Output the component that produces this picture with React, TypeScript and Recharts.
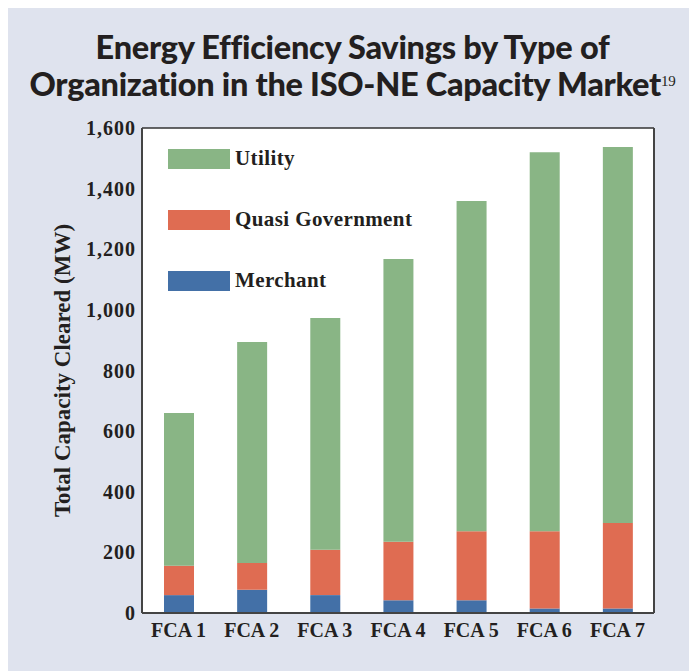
import { BarChart, Bar, XAxis, YAxis, CartesianGrid, Legend } from "recharts"

const categories = ["FCA 1", "FCA 2", "FCA 3", "FCA 4", "FCA 5", "FCA 6", "FCA 7"]
const merchant = [59, 77, 59, 42, 42, 15, 15]
const quasiGovernment = [97, 88, 150, 193, 228, 255, 282]
const utility = [504, 729, 764, 933, 1089, 1250, 1240]
const yTicks = [0, 200, 400, 600, 800, 1000, 1200, 1400, 1600]

const data = categories.map((name, i) => ({
  name,
  merchant: merchant[i],
  quasi: quasiGovernment[i],
  utility: utility[i],
}))

const legendItems = [
  { label: "Utility", color: "#89b585" },
  { label: "Quasi Government", color: "#df6c52" },
  { label: "Merchant", color: "#4370a7" },
]

const serif = "'Liberation Serif', 'Times New Roman', serif"
const ink = "#231f20"

function LegendBox() {
  return (
    <div>
      {legendItems.map((item) => (
        <div key={item.label} style={{ display: "flex", alignItems: "center", height: 61 }}>
          <div style={{ width: 62, height: 20, background: item.color }} />
          <span style={{ marginLeft: 5, fontFamily: serif, fontWeight: 700, fontSize: 21, letterSpacing: 0.4, color: ink }}>
            {item.label}
          </span>
        </div>
      ))}
    </div>
  )
}

export default function App() {
  return (
    <div style={{ position: "relative", width: 689, height: 663, background: "#dfe3ee", overflow: "hidden" }}>
      <div
        style={{
          position: "absolute",
          top: 20,
          left: 0,
          width: 689,
          textAlign: "center",
          fontFamily: "Lato, sans-serif",
          fontWeight: 900,
          fontSize: 32.5,
          lineHeight: "37px",
          letterSpacing: -0.3,
          color: ink,
        }}
      >
        Energy Efficiency Savings by Type of
        <br />
        Organization in the ISO-NE Capacity Market
        <sup style={{ fontFamily: serif, fontWeight: 400, fontSize: 15, verticalAlign: "10px", lineHeight: 0 }}>19</sup>
      </div>
      <div style={{ position: "absolute", top: 0, left: 0 }}>
        <BarChart width={689} height={663} data={data} margin={{ top: 120, right: 42, left: 34, bottom: 28 }} barSize={30}>
          <CartesianGrid vertical={false} stroke="#333" strokeWidth={1.5} fill="#ffffff" />
          <XAxis
            dataKey="name"
            interval={0}
            tickLine={false}
            axisLine={{ stroke: "#444", strokeWidth: 2 }}
            tickMargin={4}
            tick={{ fontFamily: serif, fontWeight: 700, fontSize: 20, fill: ink }}
          />
          <YAxis
            yAxisId="left"
            width={100}
            domain={[0, 1600]}
            ticks={yTicks}
            interval={0}
            tickLine={false}
            tickSize={4}
            axisLine={{ stroke: "#444", strokeWidth: 2 }}
            tickFormatter={(v) => v.toLocaleString("en-US")}
            tick={{ fontFamily: serif, fontWeight: 700, fontSize: 20, letterSpacing: 1, fill: ink }}
            label={{
              value: "Total Capacity Cleared (MW)",
              angle: -90,
              position: "insideLeft",
              offset: 20,
              style: { textAnchor: "middle", fontFamily: serif, fontWeight: 700, fontSize: 23, fill: ink },
            }}
          />
          <YAxis
            yAxisId="right"
            orientation="right"
            width={1}
            domain={[0, 1600]}
            tick={false}
            tickLine={false}
            axisLine={{ stroke: "#444", strokeWidth: 2 }}
          />
          <Legend
            content={<LegendBox />}
            layout="vertical"
            verticalAlign="middle"
            align="center"
            wrapperStyle={{ top: 120, left: 160, width: 320 }}
          />
          <Bar yAxisId="left" dataKey="merchant" stackId="a" fill="#4370a7" isAnimationActive={false} />
          <Bar yAxisId="left" dataKey="quasi" stackId="a" fill="#df6c52" isAnimationActive={false} />
          <Bar yAxisId="left" dataKey="utility" stackId="a" fill="#89b585" isAnimationActive={false} />
        </BarChart>
      </div>
    </div>
  )
}
